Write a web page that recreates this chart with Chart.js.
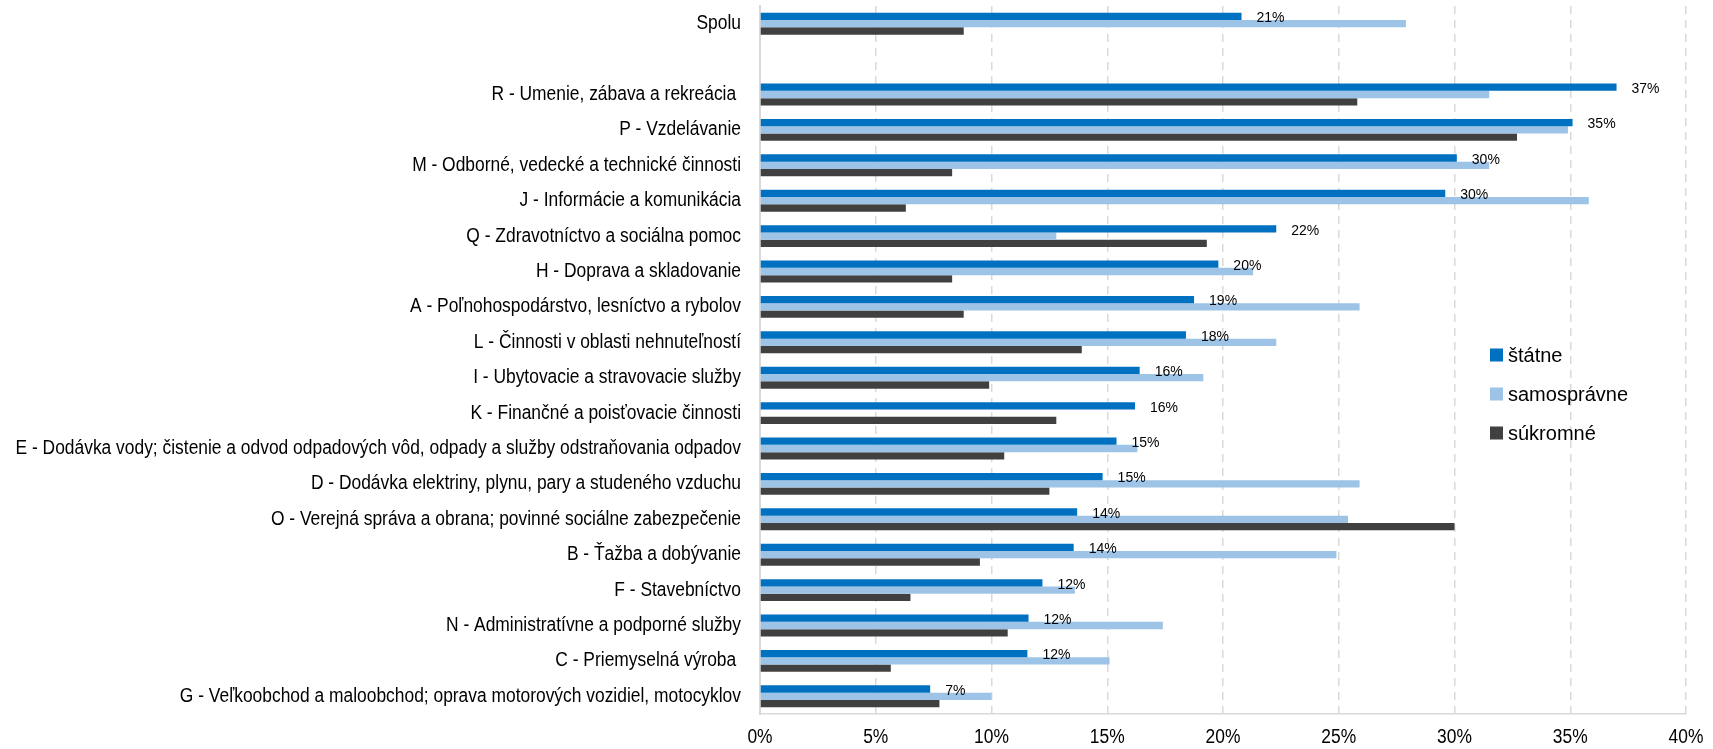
<!DOCTYPE html>
<html>
<head>
<meta charset="utf-8">
<script src="https://cdn.jsdelivr.net/npm/chart.js@4.4.1/dist/chart.umd.min.js"></script>
<style>
  html, body { margin: 0; padding: 0; background: #fff; }
  #wrap { width: 1713px; height: 749px; position: relative; }
</style>
</head>
<body>
<div id="wrap"><canvas id="chart"></canvas></div>
<script>
const categories = [
  'Spolu',
  '',
  'R - Umenie, zábava a rekreácia ',
  'P - Vzdelávanie',
  'M - Odborné, vedecké a technické činnosti',
  'J - Informácie a komunikácia',
  'Q - Zdravotníctvo a sociálna pomoc',
  'H - Doprava a skladovanie',
  'A - Poľnohospodárstvo, lesníctvo a rybolov',
  'L - Činnosti v oblasti nehnuteľností',
  'I - Ubytovacie a stravovacie služby',
  'K - Finančné a poisťovacie činnosti',
  'E - Dodávka vody; čistenie a odvod odpadových vôd, odpady a služby odstraňovania odpadov',
  'D - Dodávka elektriny, plynu, pary a studeného vzduchu',
  'O - Verejná správa a obrana; povinné sociálne zabezpečenie',
  'B - Ťažba a dobývanie',
  'F - Stavebníctvo',
  'N - Administratívne a podporné služby',
  'C - Priemyselná výroba ',
  'G - Veľkoobchod a maloobchod; oprava motorových vozidiel, motocyklov'
];

const statne      = [20.8, null, 37.0, 35.1, 30.1, 29.6, 22.3, 19.8, 18.75, 18.4, 16.4, 16.2, 15.4, 14.8, 13.7, 13.55, 12.2, 11.6, 11.55, 7.35];
const samospravne = [27.9, null, 31.5, 34.9, 31.5, 35.8, 12.8, 21.3, 25.9, 22.3, 19.15, null, 16.3, 25.9, 25.4, 24.9, 13.6, 17.4, 15.1, 10.0];
const sukromne    = [8.8, null, 25.8, 32.7, 8.3, 6.3, 19.3, 8.3, 8.8, 13.9, 9.9, 12.8, 10.55, 12.5, 30.0, 9.5, 6.5, 10.7, 5.65, 7.75];

const seriesNames = ['štátne', 'samosprávne', 'súkromné'];
const colors = ['#0070C0', '#9DC3E6', '#404040'];

const FONT = "'Liberation Sans', Arial, sans-serif";
const NARROW = 0.87;

// text squeezed horizontally, like Arial Narrow
function narrowText(ctx, text, x, y, align) {
  ctx.save();
  ctx.translate(x, y);
  ctx.scale(NARROW, 1);
  ctx.textAlign = align;
  ctx.fillText(text, 0, 0);
  ctx.restore();
}

// category and percent tick labels
const axisLabels = {
  id: 'axisLabels',
  afterDraw(chart) {
    const ctx = chart.ctx;
    const ys = chart.scales.y;
    const xs = chart.scales.x;
    ctx.save();
    ctx.font = '20px ' + FONT;
    ctx.fillStyle = '#000';
    ctx.textBaseline = 'middle';
    categories.forEach((c, i) => {
      if (!c) return;
      narrowText(ctx, c, ys.right - 19, ys.getPixelForTick(i), 'right');
    });
    xs.ticks.forEach(t => {
      narrowText(ctx, t.value + '%', xs.getPixelForValue(t.value), xs.top + 23, 'center');
    });
    ctx.restore();
  }
};

// percent labels at the end of the blue bars
const valueLabels = {
  id: 'valueLabels',
  afterDatasetsDraw(chart) {
    const ctx = chart.ctx;
    const meta = chart.getDatasetMeta(0);
    ctx.save();
    ctx.font = '14px ' + FONT;
    ctx.fillStyle = '#000';
    ctx.textAlign = 'left';
    ctx.textBaseline = 'middle';
    meta.data.forEach((bar, i) => {
      const v = statne[i];
      if (v == null) return;
      ctx.fillText(Math.round(v) + '%', bar.x + 15, bar.y + 2);
    });
    ctx.restore();
  }
};

// legend inside the plot, on the right
const sideLegend = {
  id: 'sideLegend',
  afterDraw(chart) {
    const ctx = chart.ctx;
    ctx.save();
    ctx.font = '20px ' + FONT;
    ctx.textBaseline = 'middle';
    ctx.textAlign = 'left';
    chart.data.datasets.forEach((ds, i) => {
      const y = 355 + i * 39;
      ctx.fillStyle = ds.backgroundColor;
      ctx.fillRect(1490, y - 6.5, 13, 13);
      ctx.fillStyle = '#000';
      ctx.fillText(ds.label, 1508, y + 1);
    });
    ctx.restore();
  }
};

new Chart(document.getElementById('chart'), {
  type: 'bar',
  data: {
    labels: categories,
    datasets: [
      { label: seriesNames[0], data: statne, backgroundColor: colors[0] },
      { label: seriesNames[1], data: samospravne, backgroundColor: colors[1] },
      { label: seriesNames[2], data: sukromne, backgroundColor: colors[2] },
    ],
  },
  options: {
    indexAxis: 'y',
    responsive: true,
    maintainAspectRatio: false,
    animation: false,
    layout: { padding: { top: 6, right: 27, bottom: 0, left: 0 } },
    datasets: { bar: { categoryPercentage: 0.62, barPercentage: 1.0 } },
    plugins: {
      legend: { display: false },
      tooltip: { enabled: false },
    },
    scales: {
      x: {
        min: 0,
        max: 40,
        ticks: { stepSize: 5, display: false },
        grid: { color: '#D9D9D9', lineWidth: 1.5, drawTicks: false },
        border: { display: true, color: '#D9D9D9', width: 1.5, dash: [8, 6] },
        afterFit: s => { s.height = 35; },
      },
      y: {
        ticks: { display: false, autoSkip: false },
        grid: { display: false, drawTicks: false },
        border: { display: true, color: '#D9D9D9', width: 2 },
        afterFit: s => { s.width = 760; },
      },
    },
  },
  plugins: [valueLabels, axisLabels, sideLegend],
});
</script>
</body>
</html>
